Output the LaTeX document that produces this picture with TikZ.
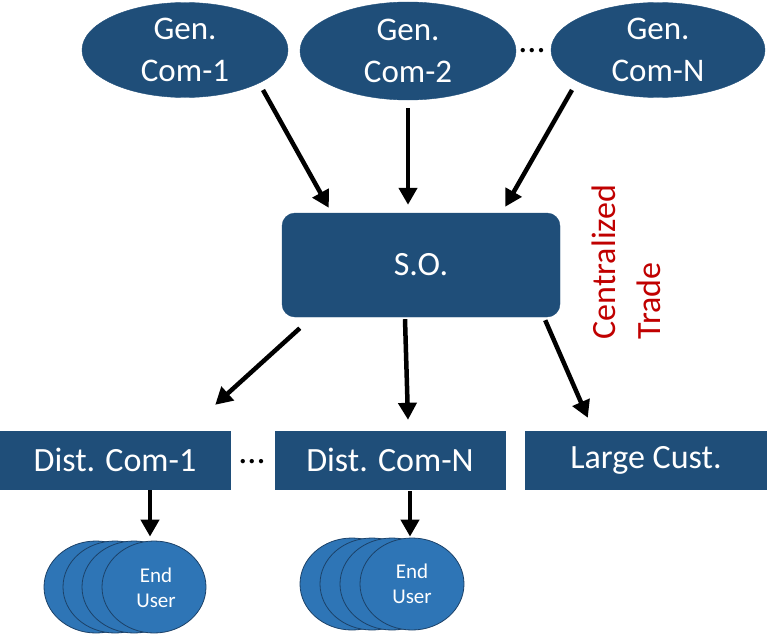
\documentclass[tikz,border=0pt]{standalone}
\usepackage{fontspec}
\setmainfont{Carlito}
\usetikzlibrary{shapes.geometric,arrows.meta,calc}
\definecolor{navy}{RGB}{31,78,121}
\definecolor{userblue}{RGB}{46,117,182}
\definecolor{userline}{RGB}{28,66,105}
\definecolor{tradered}{RGB}{192,0,0}
\tikzset{
 genell/.style={ellipse, fill=navy, draw=navy, inner sep=0pt},
 wtext/.style={text=white, align=center, font=\fontsize{33}{42}\selectfont, inner sep=0pt},
 boxnode/.style={rectangle, fill=navy, draw=navy, inner sep=0pt, minimum height=58pt, text=white, font=\fontsize{34}{40}\selectfont},
 user/.style={ellipse, fill=userblue, draw=userline, line width=0.8pt, inner sep=0pt, minimum width=104pt, minimum height=92pt},
 usertext/.style={text=white, align=center, font=\fontsize{21}{25}\selectfont, inner sep=0pt},
 arr/.style={draw=black, line width=4.5pt, -{Triangle[length=17pt,width=18pt]}},
 dots/.style={font=\fontsize{36}{36}\selectfont, inner sep=0pt}
}
\begin{document}
\begin{tikzpicture}[x=1pt,y=-1pt]
\useasboundingbox (0,0) rectangle (767,634);
% generation companies
\node[genell, minimum width=206pt, minimum height=95pt] (g1) at (185,50) {};
\node[wtext] (g1t) at (185,50) {Gen.\\Com-1};
\node[genell, minimum width=216pt, minimum height=98pt] (g2) at (408,51) {};
\node[wtext] (g2t) at (408,51) {Gen.\\Com-2};
\node[genell, minimum width=214pt, minimum height=95pt] (gN) at (658,50) {};
\node[wtext] (gNt) at (658,50) {Gen.\\Com-N};
\node[dots] (dg) at (532,51) {...};
% system operator
\node[rectangle, rounded corners=13pt, fill=navy, draw=navy, minimum width=278pt, minimum height=104pt, inner sep=0pt, text=white, font=\fontsize{34}{40}\selectfont] (so) at (421,265) {S.O.};
% centralized trade
\node[rotate=90, align=left, text=tradered, inner sep=0pt, font=\fontsize{34}{45}\selectfont] (ct) at (626,262) {Centralized\\Trade};
% distribution
\node[boxnode, minimum width=230pt] (d1) at (115,460) {Dist. Com-1};
\node[dots] (dd) at (252,462) {...};
\node[boxnode, minimum width=230pt] (dN) at (390,460) {Dist. Com-N};
\node[boxnode, minimum width=242pt] (lc) at (646,460) {Large Cust.};
% end users
\node[user] (u1a) at (96,587) {};
\node[user] (u1b) at (115,587) {};
\node[user] (u1c) at (134,587) {};
\node[user] (u1d) at (154,587) {};
\node[usertext] (u1t) at (156,588) {End\\User};
\node[user] (u2a) at (352,584) {};
\node[user] (u2b) at (372,584) {};
\node[user] (u2c) at (392,584) {};
\node[user] (u2d) at (412,584) {};
\node[usertext] (u2t) at (412,584) {End\\User};
% arrows
\draw[arr] ([shift={(78,40)}]g1.center) -- ([shift={(47,-5)}]so.north west);
\draw[arr] ([shift={(0,57)}]g2.center) -- ([shift={(-13,-8)}]so.north);
\draw[arr] ([shift={(-86,40)}]gN.center) -- ([shift={(-55,-6)}]so.north east);
\draw[arr] ([shift={(18,11)}]so.south west) -- ([shift={(-15,-26)}]d1.north east);
\draw[arr] ([shift={(-16,2)}]so.south) -- ([shift={(18,-11)}]dN.north);
\draw[arr] ([shift={(-15,3)}]so.south east) -- ([shift={(63,-13)}]lc.north west);
\draw[arr] ([shift={(35,1)}]d1.south) -- ([shift={(-4,-4)}]u1d.north);
\draw[arr] ([shift={(20,2)}]dN.south) -- ([shift={(-2,-1)}]u2d.north);
\end{tikzpicture}
\end{document}
